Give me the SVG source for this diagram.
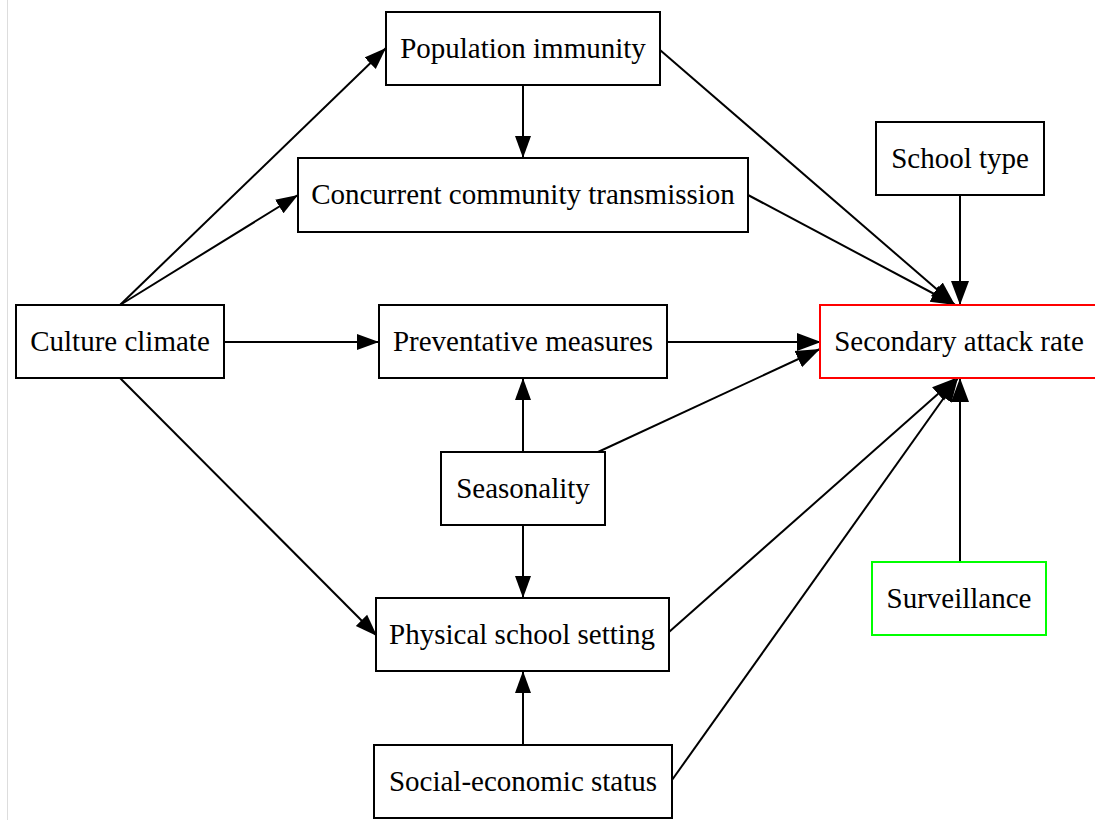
<svg xmlns="http://www.w3.org/2000/svg" width="1095" height="820" viewBox="0 0 1095 820">
<style>
.n rect{fill:#fff;stroke:#000;stroke-width:2}
.n text{font-family:"Liberation Serif","Times New Roman",serif;font-size:29px;text-anchor:middle;fill:#000}
.e line{stroke:#000;stroke-width:2;marker-end:url(#a)}
.e line.s{marker-end:url(#b)}
</style>
<defs>
<marker id="a" markerUnits="userSpaceOnUse" markerWidth="24" markerHeight="18" refX="22" refY="8.5" orient="auto" viewBox="0 0 24 18">
<path d="M0,0.5 L22,8.5 L0,16.5 z" fill="#000"/>
</marker>
<marker id="b" markerUnits="userSpaceOnUse" markerWidth="26" markerHeight="20" refX="24" refY="9.5" orient="auto" viewBox="0 0 26 20">
<path d="M0,0.5 L24,9.5 L0,18.5 z" fill="#000"/>
</marker>
</defs>
<rect width="1095" height="820" fill="#fff"/>
<line x1="7.5" y1="0" x2="7.5" y2="820" stroke="#ddd" stroke-width="1"/>
<g class="e">
<line x1="120" y1="305" x2="386" y2="48"/>
<line x1="120" y1="305" x2="298" y2="195"/>
<line x1="224" y1="342" x2="379" y2="342"/>
<line x1="120" y1="378" x2="377" y2="636"/>
<line x1="523" y1="85" x2="523" y2="158"/>
<line class="s" x1="660" y1="50" x2="955" y2="305"/>
<line class="s" x1="748" y1="195" x2="955" y2="305"/>
<line class="s" x1="960" y1="195" x2="960" y2="305"/>
<line class="s" x1="667" y1="342" x2="821" y2="342"/>
<line x1="523" y1="452" x2="523" y2="378"/>
<line class="s" x1="598" y1="452" x2="820" y2="349"/>
<line x1="523" y1="525" x2="523" y2="598"/>
<line class="s" x1="669" y1="632" x2="956" y2="378"/>
<line x1="523" y1="745" x2="523" y2="671"/>
<line class="s" x1="672" y1="780" x2="958" y2="378"/>
<line class="s" x1="960" y1="562" x2="960" y2="378"/>
</g>
<g id="population-immunity" class="n"><rect x="386" y="12" width="274" height="73"/><text x="523" y="58">Population immunity</text></g>
<g id="concurrent-community-transmission" class="n"><rect x="298" y="158" width="450" height="74"/><text x="523" y="204">Concurrent community transmission</text></g>
<g id="school-type" class="n"><rect x="876" y="122" width="168" height="73"/><text x="960" y="168">School type</text></g>
<g id="culture-climate" class="n"><rect x="16" y="305" width="208" height="73"/><text x="120" y="351">Culture climate</text></g>
<g id="preventative-measures" class="n"><rect x="379" y="305" width="288" height="73"/><text x="523" y="351">Preventative measures</text></g>
<g id="secondary-attack-rate" class="n"><rect x="820" y="305" width="278" height="73" style="stroke:#f00"/><text x="959" y="351">Secondary attack rate</text></g>
<g id="seasonality" class="n"><rect x="441" y="452" width="164" height="73"/><text x="523" y="498">Seasonality</text></g>
<g id="physical-school-setting" class="n"><rect x="376" y="598" width="293" height="73"/><text x="522" y="644">Physical school setting</text></g>
<g id="surveillance" class="n"><rect x="872" y="562" width="174" height="73" style="stroke:#0f0"/><text x="959" y="608">Surveillance</text></g>
<g id="social-economic-status" class="n"><rect x="374" y="745" width="298" height="73"/><text x="523" y="791">Social-economic status</text></g>
</svg>
